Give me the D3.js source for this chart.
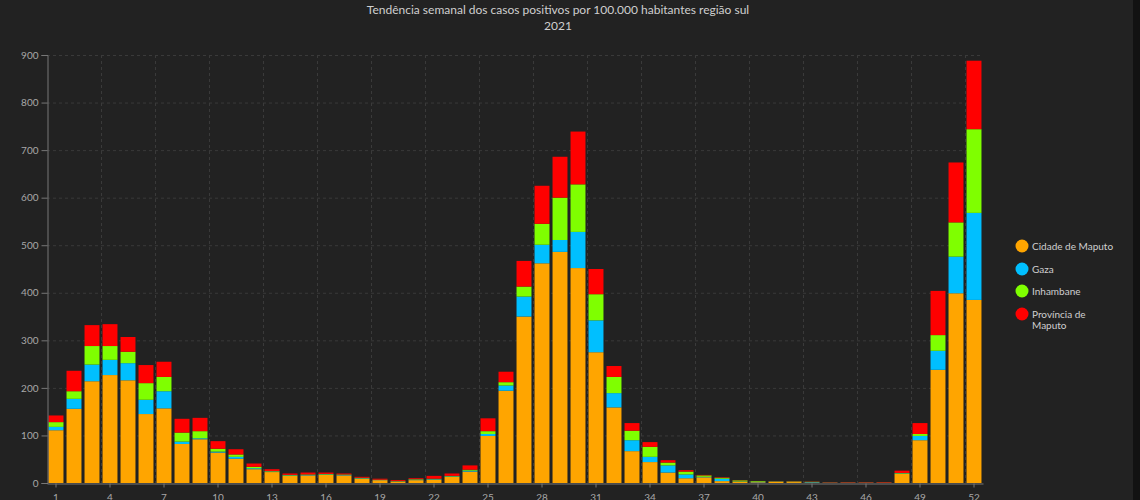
<!DOCTYPE html>
<html><head><meta charset="utf-8">
<script src="https://cdn.jsdelivr.net/npm/d3@7"></script>
<style>
html,body{margin:0;padding:0;background:#222222;}
svg{display:block;}
</style></head>
<body>
<svg id="chart" width="1140" height="500"></svg>
<script>
const weeks = d3.range(1, 53);
const seriesNames = ["Cidade de Maputo", "Gaza", "Inhambane", "Província de Maputo"];
const cidade = [111,156,214,227,216,145,157,82,92,64,51,29,23,15,16,17,16,9,6,3,6,7,13,24,99,194,350,462,486,452,275,159,67,44,22,10,12,4,3,1.5,2.5,2,1,0.5,0.5,0.5,0.5,19,90,238,399,385];
const gaza = [7,21,35,32,36,30,36,5,2,2,4,2,1,1,1,1,1,1,0.5,0.5,1,1,1,2,4,11,42,39,25,76,67,30,23,11,15,8,1,5,0.5,1,0.5,0.5,1,0.3,0.3,0.3,0.2,1,9,40,77,183];
const inhambane = [10,16,39,29,24,35,30,19,15,6,5,3,1,1,1,1,1,1,0.5,0.5,1,1,1,2,6,7,21,44,89,100,55,34,20,21,6,6,3,2,2,1.5,0.7,1,0.5,0.2,0.2,0.2,0.2,1,4,33,72,176];
const provincia = [14,43,44,46,31,38,32,29,28,16,11,7,4,3,4,3,2,2,2,2,2,6,5,9,27,22,54,80,86,111,53,23,16,10,5,3,1,1,0.5,0.3,0.5,0.7,0.5,0.6,0.8,0.8,1,5,23,93,126,144];
const yTicks = [0,100,200,300,400,500,600,700,800,900];
const xTickLabels = [1,4,7,10,13,16,19,22,25,28,31,34,37,40,43,46,49,52];
const colors = ["#FFA500", "#00BFFF", "#7FFF00", "#FF0000"];
const titleLines = ["Tendência semanal dos casos positivos por 100.000 habitantes região sul", "2021"];

const svg = d3.select("#chart");
const font = "Lato, 'Open Sans', sans-serif";

svg.append("rect").attr("x",0).attr("y",0).attr("width",1140).attr("height",500).attr("fill","#222222");
svg.append("rect").attr("x",1133).attr("y",0).attr("width",7).attr("height",500).attr("fill","#121212");

const x0 = 47, x1 = 983, yTop = 55, yBot = 483;
const x = d3.scaleBand().domain(weeks).range([x0, x1]).paddingInner(0.17).paddingOuter(0.085);
const y = d3.scaleLinear().domain([0, 900]).range([yBot, yTop]);

// grid
const grid = svg.append("g");
grid.selectAll("line.h").data(yTicks.filter(d=>d>0)).join("line")
  .attr("x1", x0).attr("x2", x1).attr("y1", d=>y(d)+0.5).attr("y2", d=>y(d)+0.5)
  .attr("stroke", "#3a3a3a").attr("stroke-dasharray", "3,3");
grid.selectAll("line.v").data(xTickLabels.filter(d=>d>1)).join("line")
  .attr("x1", d=>Math.round(x(d) - x.step()*x.paddingInner()/2)+0.5)
  .attr("x2", d=>Math.round(x(d) - x.step()*x.paddingInner()/2)+0.5)
  .attr("y1", yTop).attr("y2", yBot)
  .attr("stroke", "#3a3a3a").attr("stroke-dasharray", "3,3");

// stacked data
const table = weeks.map((w,i)=>({week:w, s0:cidade[i], s1:gaza[i], s2:inhambane[i], s3:provincia[i]}));
const stack = d3.stack().keys(["s0","s1","s2","s3"]);
const stacked = stack(table);

svg.append("g").selectAll("g").data(stacked).join("g")
  .attr("fill", (d,i)=>colors[i])
  .selectAll("rect").data(d=>d).join("rect")
  .attr("x", d=>x(d.data.week))
  .attr("width", x.bandwidth())
  .attr("y", d=>y(d[1]))
  .attr("height", d=>Math.max(0, y(d[0]) - y(d[1])));

// axes
const yAxis = d3.axisLeft(y).tickValues(yTicks).tickSize(6).tickPadding(3);
const gy = svg.append("g").attr("transform", `translate(${x0+0.5},0)`).call(yAxis);
gy.select(".domain").attr("stroke", "#777");
gy.selectAll(".tick line").attr("stroke", "#777");
gy.selectAll("text").attr("fill", "#a8a8a8").style("font-family", font).style("font-size", "10px");

const xAxis = d3.axisBottom(x).tickValues(xTickLabels).tickSize(4).tickPadding(6).tickSizeOuter(0);
const gx = svg.append("g").attr("transform", `translate(0,${yBot+0.5})`).call(xAxis);
gx.select(".domain").attr("stroke", "#777");
gx.selectAll(".tick line").attr("stroke", "#777");
gx.selectAll("text").attr("fill", "#a8a8a8").style("font-family", font).style("font-size", "10px");

// title
svg.append("g").selectAll("text").data(titleLines).join("text")
  .attr("x", 558).attr("y", (d,i)=>14 + i*16)
  .attr("text-anchor", "middle")
  .attr("fill", "#cfcfcf")
  .style("font-family", font).style("font-size", "12px")
  .text(d=>d);

// legend
const legendY = [246, 269, 291, 314];
const lg = svg.append("g");
seriesNames.forEach((name,i)=>{
  lg.append("circle").attr("cx", 1022).attr("cy", legendY[i]).attr("r", 6.5).attr("fill", colors[i]);
  const parts = name === "Província de Maputo" ? ["Província de", "Maputo"] : [name];
  parts.forEach((p,j)=>{
    lg.append("text").attr("x", 1032).attr("y", legendY[i] + 3.5 + j*11)
      .attr("fill", "#cfcfcf").style("font-family", font).style("font-size", "10px").text(p);
  });
});
</script>
</body></html>
